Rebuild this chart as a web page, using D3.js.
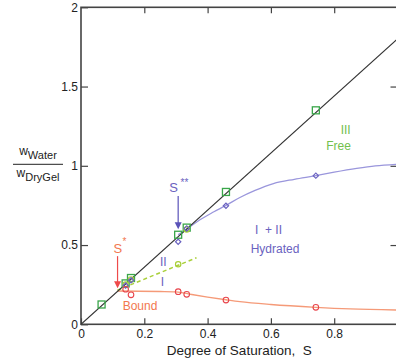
<!DOCTYPE html>
<html><head><meta charset="utf-8">
<script src="https://cdn.jsdelivr.net/npm/d3@7"></script>
<style>
html,body{margin:0;padding:0;background:#fff;}
svg{display:block;font-family:"Liberation Sans",Arial,Helvetica,sans-serif;}
text{white-space:pre;}
</style></head>
<body>
<svg id="chart" width="396" height="364"></svg>
<script>
// ---- data ----
const xTickValues = [0, 0.2, 0.4, 0.6, 0.8];
const yTickValues = [0, 0.5, 1, 1.5, 2];
const totalSlope = 1.8;                       // total water line: w = 1.8 * S
const totalLineS = [0, 1];
const freeS   = [0.065, 0.141, 0.158, 0.307, 0.334, 0.458, 0.742];
const freeW   = [0.125, 0.258, 0.292, 0.565, 0.610, 0.835, 1.350];
const hydS    = [0.141, 0.158, 0.307, 0.334, 0.458, 0.742];
const hydW    = [0.245, 0.278, 0.521, 0.605, 0.748, 0.938];
const hydFitS = [0.307, 0.334, 0.376, 0.42, 0.458, 0.502, 0.55, 0.608, 0.674, 0.742, 0.80, 0.871, 0.93, 1.0];
const hydFitW = [0.565, 0.600, 0.660, 0.71, 0.750, 0.800, 0.845, 0.888, 0.915, 0.938, 0.96, 0.984, 1.0, 1.01];
const iiS     = [0.141, 0.158, 0.307, 0.334];
const iiW     = [0.250, 0.283, 0.379, 0.598];
const iiLineS = [0.115, 0.365];
const iiLineW = [0.215, 0.42];
const boundS  = [0.141, 0.158, 0.307, 0.334, 0.458, 0.742];
const boundW  = [0.221, 0.186, 0.206, 0.189, 0.153, 0.107];
const boundFitS = [0.115, 0.25, 0.30, 0.35, 0.40, 0.458, 0.502, 0.60, 0.742, 0.85, 1.0];
const boundFitW = [0.210, 0.207, 0.205, 0.188, 0.172, 0.155, 0.143, 0.125, 0.107, 0.097, 0.09];
const sStar   = {S: 0.1155, from: 0.43, to: 0.227};
const sStar2  = {S: 0.307, from: 0.81, to: 0.60};

// ---- colours ----
const cGreen = "#3aa64a", cLime = "#a9cf3a", cBlue = "#6a62c0", cBlueLine = "#9a96dc",
      cRed = "#e8454c", cRedLine = "#f59a78", cOrange = "#f2784f", cGreenTxt = "#72c04e";

const svg = d3.select("#chart");
const x = d3.scaleLinear().domain([0, 1]).range([81, 397.5]);
const y = d3.scaleLinear().domain([0, 2]).range([324.3, 7.3]);
const fmt = d3.format("~g");

// clip
svg.append("clipPath").attr("id", "clip").append("rect")
  .attr("x", x(0)).attr("y", y(2)).attr("width", x(1) - x(0)).attr("height", y(0) - y(2));

// axes
const axStyle = g => { g.select(".domain").remove(); g.selectAll("line").attr("stroke", "#444").attr("stroke-width", 1.2);
  g.selectAll("text").attr("fill", "#222").style("font-size", "12px").style("font-family", "Liberation Sans, Arial, sans-serif"); };
svg.append("g").attr("transform", `translate(0,${y(0)})`)
  .call(d3.axisBottom(x).tickValues(xTickValues).tickSize(-6).tickPadding(5).tickFormat(fmt)).call(axStyle);
svg.append("g").attr("transform", `translate(0,${y(2)})`)
  .call(d3.axisTop(x).tickValues([0.2, 0.4, 0.6, 0.8, 1]).tickSize(-6).tickFormat("")).call(axStyle);
svg.append("g").attr("transform", `translate(${x(0)},0)`)
  .call(d3.axisLeft(y).tickValues(yTickValues).tickSize(-7).tickPadding(3).tickFormat(fmt)).call(axStyle);
svg.append("g").attr("transform", `translate(${x(1) - 1},0)`)
  .call(d3.axisRight(y).tickValues([0.5, 1, 1.5]).tickSize(-6).tickFormat("")).call(axStyle);

// frame
svg.append("rect").attr("x", x(0)).attr("y", y(2)).attr("width", x(1) - x(0)).attr("height", y(0) - y(2))
  .attr("fill", "none").attr("stroke", "#444").attr("stroke-width", 1.6);

const plot = svg.append("g").attr("clip-path", "url(#clip)");
const line = d3.line().x(d => x(d[0])).y(d => y(d[1]));
const curve = d3.line().x(d => x(d[0])).y(d => y(d[1])).curve(d3.curveMonotoneX);

// lines
plot.append("path").datum(boundFitS.map((s, i) => [s, boundFitW[i]])).attr("d", curve)
  .attr("fill", "none").attr("stroke", cRedLine).attr("stroke-width", 1.3);
plot.append("path").datum(hydFitS.map((s, i) => [s, hydFitW[i]])).attr("d", curve)
  .attr("fill", "none").attr("stroke", cBlueLine).attr("stroke-width", 1.3);
plot.append("path").datum(iiLineS.map((s, i) => [s, iiLineW[i]])).attr("d", line)
  .attr("fill", "none").attr("stroke", cLime).attr("stroke-width", 1.5).attr("stroke-dasharray", "4,3");
plot.append("path").datum(totalLineS.map(s => [s, s * totalSlope])).attr("d", line)
  .attr("fill", "none").attr("stroke", "#333").attr("stroke-width", 1.1);

// markers
plot.selectAll(".sq").data(freeS.map((s, i) => [s, freeW[i]])).join("rect")
  .attr("x", d => x(d[0]) - 3.5).attr("y", d => y(d[1]) - 3.5).attr("width", 7).attr("height", 7)
  .attr("fill", "none").attr("stroke", cGreen).attr("stroke-width", 1.3);
plot.selectAll(".gc").data(iiS.map((s, i) => [s, iiW[i]])).join("circle")
  .attr("cx", d => x(d[0])).attr("cy", d => y(d[1])).attr("r", 2.7)
  .attr("fill", "none").attr("stroke", cLime).attr("stroke-width", 1.2);
plot.selectAll(".dm").data(hydS.map((s, i) => [s, hydW[i]])).join("path")
  .attr("d", d3.symbol(d3.symbolSquare, 14))
  .attr("transform", d => `translate(${x(d[0])},${y(d[1])}) rotate(45)`)
  .attr("fill", "none").attr("stroke", cBlue).attr("stroke-width", 1.2);
plot.selectAll(".rc").data(boundS.map((s, i) => [s, boundW[i]])).join("circle")
  .attr("cx", d => x(d[0])).attr("cy", d => y(d[1])).attr("r", 2.8)
  .attr("fill", "none").attr("stroke", cRed).attr("stroke-width", 1.1);

// arrows
function arrow(a, col) {
  const ax = x(a.S), y0 = y(a.from), y1 = y(a.to);
  svg.append("line").attr("x1", ax).attr("x2", ax).attr("y1", y0).attr("y2", y1 - 5)
    .attr("stroke", col).attr("stroke-width", 1.2);
  svg.append("path").attr("d", `M${ax - 3.5},${y1 - 7}L${ax + 3.5},${y1 - 7}L${ax},${y1}Z`).attr("fill", col);
}
arrow(sStar, "#ee4a4a");
arrow(sStar2, "#5a52b8");

// text labels
function txt(t, px, py, col, size, anchor) {
  return svg.append("text").attr("x", px).attr("y", py).attr("fill", col)
    .attr("text-anchor", anchor || "middle").style("font-size", size + "px").text(t);
}
txt("S", 117.8, 253, cOrange, 13);
txt("*", 124.5, 245, cOrange, 10);
txt("S", 173.6, 192, cBlue, 13);
txt("**", 184.5, 186, cBlue, 10);
txt("III", 345.7, 134, cGreenTxt, 12);
txt("Free", 338.5, 150, cGreenTxt, 12);
txt("I  + II", 268.5, 234, cBlue, 12);
txt("Hydrated", 275, 253, cBlue, 12);
txt("II", 163.3, 266, cBlue, 12);
txt("I", 162.3, 286, cBlue, 12);
txt("Bound", 140, 310, cOrange, 12);

// axis titles
txt("Degree of Saturation,  S", x(0.5), 355, "#222", 13.5);
const yl = svg.append("g").attr("fill", "#222");
const num = yl.append("text").attr("x", 38).attr("y", 155).attr("text-anchor", "middle").style("font-size", "12px");
num.append("tspan").text("w");
num.append("tspan").attr("dy", 3.5).style("font-size", "11px").text("Water");
yl.append("line").attr("x1", 13).attr("x2", 63).attr("y1", 164.3).attr("y2", 164.3).attr("stroke", "#222").attr("stroke-width", 1);
const den = yl.append("text").attr("x", 38).attr("y", 177).attr("text-anchor", "middle").style("font-size", "12px");
den.append("tspan").text("w");
den.append("tspan").attr("dy", 3.5).style("font-size", "11px").text("DryGel");
</script>
</body></html>
